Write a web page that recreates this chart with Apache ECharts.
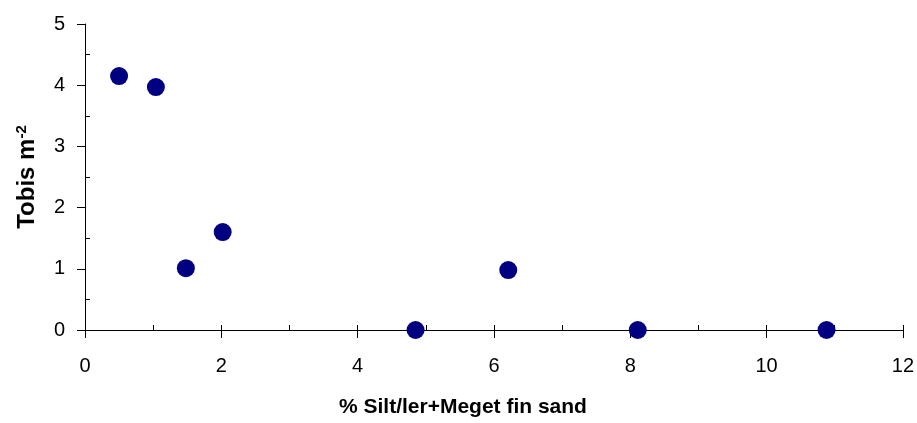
<!DOCTYPE html>
<html>
<head>
<meta charset="utf-8">
<script src="https://cdn.jsdelivr.net/npm/echarts@6/dist/echarts.min.js"></script>
<style>
  html, body { margin: 0; padding: 0; background: #fff; }
  #chart { width: 917px; height: 423px; }
</style>
</head>
<body>
<div id="chart"></div>
<script>
// % silt/ler + meget fin sand vs. tobis per m2
const siltPct = [0.5, 1.04, 1.48, 2.02, 4.85, 6.21, 8.11, 10.88]
const tobis = [4.15, 3.97, 1.01, 1.6, 0.0, 0.98, 0.0, 0.0]
const yMinorTicks = [0.5, 1.5, 2.5, 3.5, 4.5]

const points = siltPct.map((x, i) => [x, tobis[i]])

const font = 'Liberation Sans, Arial, sans-serif'
const black = '#000'

const chart = echarts.init(document.getElementById('chart'), null, { renderer: 'canvas' })

chart.setOption({
  animation: false,
  grid: { left: 85, right: 12, top: 24, bottom: 91 },
  xAxis: [
    {
      type: 'value',
      min: 0,
      max: 12,
      interval: 2,
      name: '% Silt/ler+Meget fin sand',
      nameLocation: 'middle',
      nameGap: 67,
      nameTextStyle: {
        fontFamily: font, fontSize: 21, fontWeight: 'bold', color: black,
        padding: [0, 62, 0, 0],
      },
      axisLine: { lineStyle: { color: black, width: 1 } },
      axisTick: { show: true, inside: false, length: 8, lineStyle: { color: black } },
      axisLabel: { fontFamily: font, fontSize: 20, color: black, margin: 26 },
      splitLine: { show: false },
    },
    {
      // minor + inner half of the major x ticks
      type: 'value',
      position: 'bottom',
      min: 0,
      max: 12,
      interval: 1,
      axisLine: { show: false },
      axisTick: { show: true, inside: true, length: 5, lineStyle: { color: black } },
      axisLabel: { show: false },
      splitLine: { show: false },
    },
  ],
  yAxis: [
    {
      type: 'value',
      min: 0,
      max: 5,
      interval: 1,
      name: '{a|Tobis m}{b|-2}',
      nameLocation: 'middle',
      nameGap: 44,
      nameRotate: 90,
      nameTextStyle: {
        rich: {
          a: { fontFamily: font, fontSize: 24, fontWeight: 'bold', color: black },
          b: { fontFamily: font, fontSize: 15, fontWeight: 'bold', color: black, verticalAlign: 'top', padding: [0, 0, 12, 0] },
        },
      },
      axisLine: { show: true, lineStyle: { color: black, width: 1 } },
      axisTick: { show: true, inside: false, length: 8, lineStyle: { color: black } },
      axisLabel: { fontFamily: font, fontSize: 20, color: black, margin: 20 },
      splitLine: { show: false },
    },
    {
      // minor y ticks, inside
      type: 'value',
      position: 'left',
      min: 0,
      max: 5,
      axisLine: { show: false },
      axisTick: {
        show: true, inside: true, length: 5,
        customValues: yMinorTicks,
        lineStyle: { color: black },
      },
      axisLabel: { show: false },
      splitLine: { show: false },
    },
  ],
  series: [
    {
      type: 'scatter',
      data: points,
      symbol: 'circle',
      symbolSize: 18,
      itemStyle: { color: '#000080', opacity: 1 },
    },
  ],
})
</script>
</body>
</html>
